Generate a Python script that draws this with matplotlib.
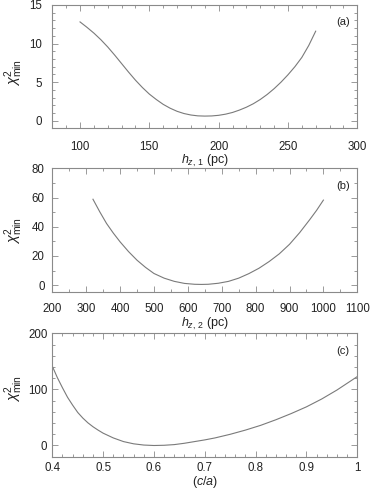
import matplotlib
matplotlib.use("Agg")
import matplotlib.pyplot as plt
from matplotlib.ticker import MultipleLocator, FormatStrFormatter

plt.rcParams['font.family'] = ['Liberation Sans', 'DejaVu Sans']
plt.rcParams['mathtext.fontset'] = 'custom'
plt.rcParams['mathtext.rm'] = 'Liberation Sans'
plt.rcParams['mathtext.it'] = 'Liberation Sans:italic'

# panel (a): chi2_min vs h_z,1 (pc)
hz1 = [100, 105, 110, 115, 120, 125, 130, 135, 140, 145, 150, 155, 160, 165, 170, 175, 180,
       185, 190, 195, 200, 205, 210, 215, 220, 225, 230, 235, 240, 245, 250, 255, 260, 265, 270]
chi_a = [12.8, 12.1, 11.35, 10.5, 9.55, 8.5, 7.4, 6.3, 5.25, 4.3, 3.45, 2.75, 2.12, 1.62, 1.22,
         0.93, 0.74, 0.63, 0.6, 0.62, 0.7, 0.85, 1.07, 1.38, 1.75, 2.2, 2.75, 3.4, 4.15, 5.0,
         5.95, 7.0, 8.2, 9.75, 11.6]

# panel (b): chi2_min vs h_z,2 (pc)
hz2 = [320, 340, 360, 380, 400, 425, 450, 475, 500, 530, 560, 590, 620, 640, 660, 690, 720,
       750, 780, 810, 840, 870, 900, 930, 960, 980, 1000]
chi_b = [58.9, 50.3, 42.3, 35.7, 29.7, 23.0, 17.1, 12.2, 8.0, 4.8, 2.6, 1.2, 0.6, 0.5, 0.6, 1.3,
         2.6, 4.8, 7.9, 11.6, 16.2, 21.5, 28.0, 36.0, 45.0, 51.3, 58.3]

# panel (c): chi2_min vs (c/a)
ca = [0.40, 0.41, 0.42, 0.43, 0.44, 0.45, 0.46, 0.47, 0.48, 0.49, 0.50, 0.52, 0.54, 0.56, 0.58,
      0.60, 0.62, 0.64, 0.66, 0.68, 0.70, 0.72, 0.75, 0.78, 0.81, 0.84, 0.87, 0.90, 0.93, 0.96, 1.00]
chi_c = [141.5, 121.0, 103.0, 86.0, 72.0, 59.0, 49.0, 40.5, 33.5, 27.5, 22.0, 13.5, 7.0, 3.0, 0.8,
         0.0, 0.4, 1.6, 4.0, 7.0, 10.0, 13.5, 20.0, 27.5, 36.0, 46.0, 57.0, 69.0, 83.0, 99.0, 123.0]

fig = plt.figure(figsize=(3.71, 4.94), dpi=100)

line_col = '#7a7a7a'
spine_col = '#8a8a8a'

panels = [
    dict(x=hz1, y=chi_a, rect=[0.141, 0.740, 0.822, 0.250], xlim=(80, 300), ylim=(-1, 15),
         xmaj=50, xmin=10, ymaj=5, ymin=1, xlabel=r'$h_{z,\,1}$ (pc)', tag='(a)',
         xpad=9.0, ypad=7.5, xlab_y=-0.262, ylab=(-0.125, 0.45)),
    dict(x=hz2, y=chi_b, rect=[0.141, 0.408, 0.822, 0.251], xlim=(200, 1100), ylim=(-5, 80),
         xmaj=100, xmin=50, ymaj=20, ymin=10, xlabel=r'$h_{z,\,2}$ (pc)', tag='(b)',
         xpad=7.5, ypad=5.5, xlab_y=-0.252, ylab=(-0.128, 0.50)),
    dict(x=ca, y=chi_c, rect=[0.141, 0.0755, 0.822, 0.2495], xlim=(0.4, 1.0), ylim=(-20, 200),
         xmaj=0.1, xmin=0.02, ymaj=100, ymin=20, xlabel=r'($c$/$a$)', tag='(c)',
         xpad=3.5, ypad=3.5, xlab_y=-0.205, ylab=(-0.128, 0.553)),
]

for p in panels:
    ax = fig.add_axes(p['rect'])
    ax.plot(p['x'], p['y'], color=line_col, lw=0.8)
    ax.set_xlim(*p['xlim'])
    ax.set_ylim(*p['ylim'])
    ax.xaxis.set_major_locator(MultipleLocator(p['xmaj']))
    ax.xaxis.set_minor_locator(MultipleLocator(p['xmin']))
    ax.yaxis.set_major_locator(MultipleLocator(p['ymaj']))
    ax.yaxis.set_minor_locator(MultipleLocator(p['ymin']))
    ax.xaxis.set_major_formatter(FormatStrFormatter('%g'))
    ax.tick_params(which='both', direction='in', top=True, right=True,
                   color=spine_col, labelsize=8.3, width=0.6, labelcolor='#222222')
    ax.tick_params(which='major', length=4.5)
    ax.tick_params(which='minor', length=2.2)
    ax.tick_params(axis='x', which='major', pad=p['xpad'])
    ax.tick_params(axis='y', which='major', pad=p['ypad'])
    for s in ax.spines.values():
        s.set_color(spine_col)
        s.set_linewidth(0.8)
    ax.set_xlabel(p['xlabel'], fontsize=9, color='#222222')
    ax.xaxis.set_label_coords(0.5, p['xlab_y'])
    ax.xaxis.label.set_verticalalignment('center')
    ax.set_ylabel(r'$\chi^{2}_{\rm min}$', fontsize=10.5, color='#222222')
    ax.yaxis.set_label_coords(*p['ylab'])
    ax.yaxis.label.set_verticalalignment('center')
    ax.text(0.975, 0.86, p['tag'], transform=ax.transAxes, ha='right', va='center',
            fontsize=8, color='#222222')

fig.savefig('out.png', dpi=100)
